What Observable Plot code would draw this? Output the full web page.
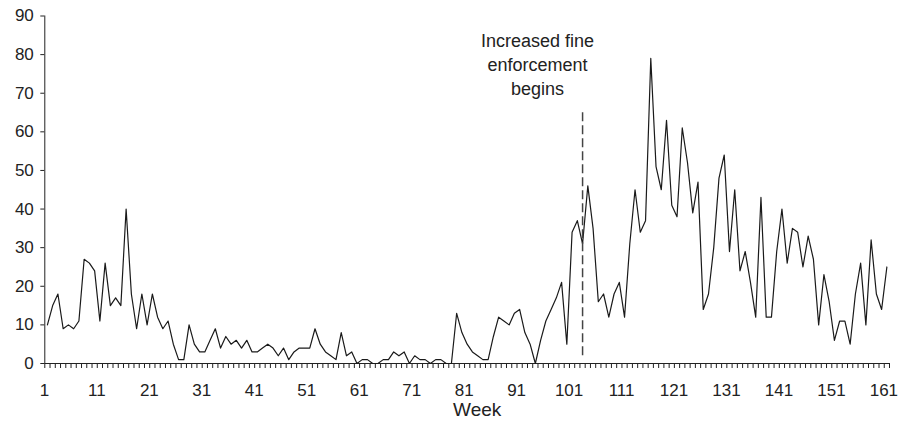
<!DOCTYPE html>
<html><head><meta charset="utf-8">
<script src="https://cdn.jsdelivr.net/npm/d3@7"></script>
<script src="https://cdn.jsdelivr.net/npm/@observablehq/plot@0.6"></script>
<style>body{margin:0;background:#fff} svg{display:block}</style>
</head><body><div id="chart"></div>
<script>
// Weekly counts, week 1 .. 161
const counts = [
  10,15,18,9,10,9,11,27,26,24,11,26,15,17,15,40,18,9,18,10,18,12,9,11,5,1,1,
  10,5,3,3,6,9,4,7,5,6,4,6,3,3,4,5,4,2,4,1,3,4,4,4,
  9,5,3,2,1,8,2,3,0,1,1,0,0,1,1,3,2,3,0,2,1,1,0,1,1,0,0,
  13,8,5,3,2,1,1,7,12,11,10,13,14,8,5,0,6,11,14,17,21,5,34,37,31,
  46,35,16,18,12,18,21,12,31,45,34,37,79,51,45,63,41,38,61,52,39,47,14,
  18,30,48,54,29,45,24,29,21,12,43,12,12,29,40,26,35,34,
  25,33,27,10,23,16,6,11,11,5,18,26,10,32,18,14,25
];
const yTicks = [0,10,20,30,40,50,60,70,80,90];
const xTickLabels = [1,11,21,31,41,51,61,71,81,91,101,111,121,131,141,151,161];
const xTitle = "Week";
const eventWeek = [103];
const eventSpan = [2, 66];
const eventLabel = ["Increased fine\nenforcement\nbegins"];
const eventLabelY = [77.8];

const weeks = counts.map((_, i) => i + 1);
const data = counts.map((v, i) => ({week: weeks[i], value: v}));
const boundaries = [0.5, ...weeks.map(w => w + 0.5)];

const chart = Plot.plot({
  width: 908,
  height: 427,
  marginLeft: 44.3,
  marginRight: 19,
  marginTop: 15.5,
  marginBottom: 64,
  x: {domain: [0.5, weeks.length + 0.5], axis: null},
  y: {domain: [0, 90], axis: null},
  style: {fontFamily: "'Liberation Sans', Arial, sans-serif", fontSize: "17px", color: "#222", background: "#fff"},
  marks: [
    Plot.axisY(yTicks, {tickSize: 4, tickPadding: 7, label: null, fontSize: 17, stroke: "#222"}),
    Plot.axisX(boundaries, {tickSize: 5, tickFormat: () => "", label: null, stroke: "#222"}),
    Plot.axisX(xTickLabels, {tickSize: 0, tickPadding: 20, label: null, fontSize: 17, dx: -3}),
    Plot.ruleX([0.5], {y1: 0, y2: 90, stroke: "#222"}),
    Plot.ruleY([0], {x1: 0.5, x2: weeks.length + 0.5, stroke: "#222"}),
    Plot.line(data, {x: "week", y: "value", stroke: "#1a1a1a", strokeWidth: 1.2}),
    Plot.ruleX(eventWeek, {y1: eventSpan[0], y2: eventSpan[1], stroke: "#444", strokeWidth: 1.5, strokeDasharray: "9,4"}),
    Plot.text(eventLabel, {x: eventWeek, y: eventLabelY, text: d => d, dx: -45, textAnchor: "middle", lineHeight: 1.333, fontSize: 18, fill: "#222"}),
    Plot.text([xTitle], {text: d => d, frameAnchor: "bottom", dx: 10, dy: 52, fontSize: 19, fill: "#222"})
  ]
});
document.getElementById("chart").appendChild(chart);
</script>
</body></html>
